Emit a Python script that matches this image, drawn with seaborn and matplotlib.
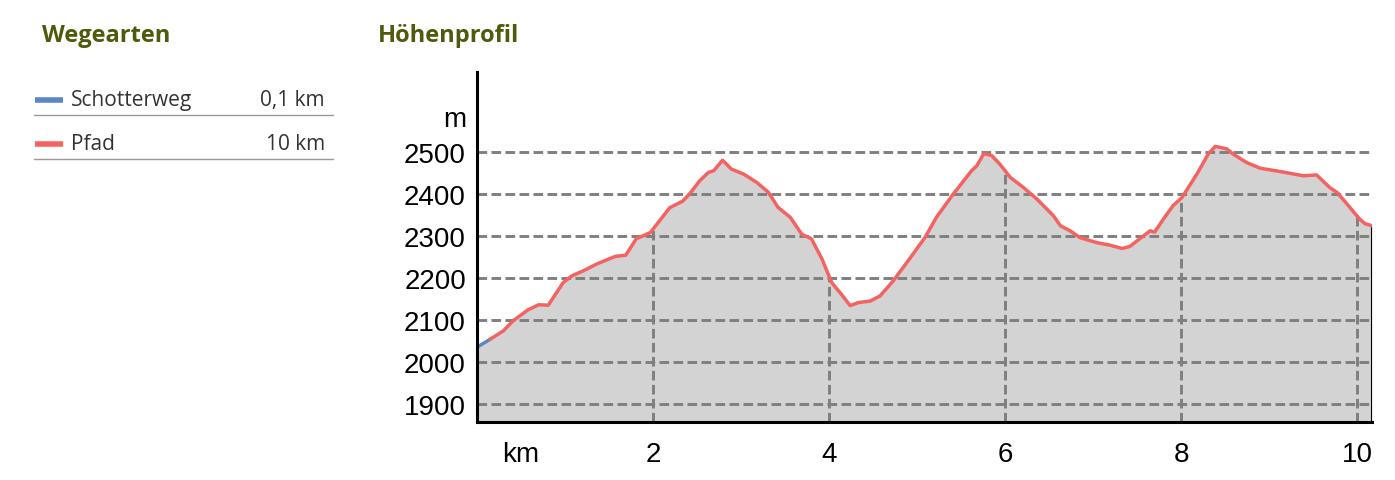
"""
Hoehenprofil - elevation profile with path types legend
"""

import numpy as np
import pandas as pd
import matplotlib.pyplot as plt
import seaborn as sns

# Profile (km, m)
km = [0.00, 0.15, 0.30, 0.41, 0.58, 0.70, 0.81, 0.98, 1.08, 1.21, 1.36, 1.57,
      1.69, 1.81, 1.97, 2.19, 2.34, 2.42, 2.53, 2.63, 2.69, 2.79, 2.89, 3.03,
      3.18, 3.31, 3.42, 3.56, 3.69, 3.80, 3.92, 4.03, 4.14, 4.24, 4.33, 4.47,
      4.58, 4.73, 4.90, 5.09, 5.22, 5.41, 5.53, 5.62, 5.68, 5.76, 5.85, 5.94,
      6.06, 6.21, 6.36, 6.55, 6.63, 6.74, 6.85, 7.04, 7.19, 7.33, 7.42, 7.53,
      7.65, 7.70, 7.80, 7.91, 8.01, 8.18, 8.31, 8.39, 8.52, 8.59, 8.74, 8.90,
      9.13, 9.39, 9.54, 9.69, 9.78, 10.03, 10.09, 10.17]
elev = [2036, 2055, 2075, 2099, 2125, 2137, 2136, 2190, 2206, 2218, 2234, 2252,
        2255, 2294, 2309, 2368, 2384, 2402, 2432, 2452, 2456, 2481, 2460, 2448,
        2428, 2405, 2369, 2345, 2305, 2294, 2246, 2190, 2162, 2135, 2142, 2146,
        2158, 2194, 2242, 2297, 2345, 2400, 2432, 2456, 2468, 2497, 2492, 2472,
        2440, 2416, 2389, 2349, 2325, 2313, 2297, 2285, 2279, 2271, 2276, 2294,
        2313, 2310, 2341, 2373, 2392, 2448, 2496, 2514, 2508, 2496, 2476, 2462,
        2454, 2444, 2446, 2416, 2403, 2341, 2330, 2325]

schotter_end_km = 0.15

way_types = ['Schotterweg', 'Pfad']
way_lengths = ['0,1 km', '10 km']
way_colors = ['#5b87c6', '#f46262']

y_ticks = [1900, 2000, 2100, 2200, 2300, 2400, 2500]
x_ticks = [2, 4, 6, 8, 10]

title_color = '#515a0c'

sns.set_style("white")
plt.rcParams['font.family'] = ['Open Sans', 'DejaVu Sans']

df = pd.DataFrame({'km': km, 'elev': elev})
df['typ'] = np.where(df['km'] <= schotter_end_km, way_types[0], way_types[1])

fig = plt.figure(figsize=(13.95, 4.81), dpi=100)

# titles
fig.text(42 / 1395, 1 - 36 / 481, 'Wegearten', fontsize=17, fontweight='bold',
         color=title_color, va='center', ha='left')
fig.text(378 / 1395, 1 - 36 / 481, 'Höhenprofil', fontsize=17, fontweight='bold',
         color=title_color, va='center', ha='left')

# legend table on the left
for i, (name, length, col) in enumerate(zip(way_types, way_lengths, way_colors)):
    yc = 1 - (101 + i * 44) / 481
    ysep = 1 - (116 + i * 44) / 481
    fig.add_artist(plt.Line2D([35 / 1395, 63 / 1395], [yc, yc], color=col, lw=4,
                              solid_capstyle='butt'))
    fig.text(71 / 1395, yc, name, fontsize=15, color='#333333', va='center', ha='left')
    fig.text(325 / 1395, yc, length, fontsize=15, color='#333333', va='center', ha='right')
    fig.add_artist(plt.Line2D([34 / 1395, 333 / 1395], [ysep, ysep], color='#999999', lw=1))

# profile axes
ax = fig.add_axes([477 / 1395, 1 - 423 / 481, (1372 - 477) / 1395, (423 - 73) / 481])
ymin, ymax = 1858, 2691
ax.set_xlim(0, km[-1])
ax.set_ylim(ymin, ymax)

ax.fill_between(df['km'], df['elev'], ymin, color='#d3d3d3', lw=0, zorder=1)

dash = (0, (3.3, 1.5))
for yt in y_ticks:
    ax.axhline(yt, color='#7f7f7f', lw=2.1, ls=dash, zorder=2)
# vertical grid only below the profile
ax.vlines(x_ticks, ymin, np.interp(x_ticks, km, elev), color='#7f7f7f', lw=2.1,
          linestyles=dash, zorder=2)
ax.vlines(km[-1], ymin, elev[-1], color='black', lw=1.5, zorder=3)

sns.lineplot(data=df[df['km'] <= schotter_end_km], x='km', y='elev', color=way_colors[0],
             lw=2.5, ax=ax, zorder=4, sort=False)
sns.lineplot(data=df[df['km'] >= schotter_end_km], x='km', y='elev', color=way_colors[1],
             lw=2.5, ax=ax, zorder=4, sort=False)

ax.set_xlabel('')
ax.set_ylabel('')
ax.set_yticks(y_ticks + [2586])
ax.set_yticklabels([str(v) for v in y_ticks] + ['m'])
ax.set_xticks([0.5] + x_ticks)
ax.set_xticklabels(['km'] + [str(v) for v in x_ticks])
ax.tick_params(axis='y', length=0, pad=8, labelsize=20)
ax.tick_params(axis='x', length=0, pad=14, labelsize=20)
for lab in ax.get_xticklabels() + ax.get_yticklabels():
    lab.set_fontfamily('Liberation Sans')
    lab.set_color('black')

for side in ['top', 'right']:
    ax.spines[side].set_visible(False)
for side in ['left', 'bottom']:
    ax.spines[side].set_color('black')
    ax.spines[side].set_linewidth(2.2)
    ax.spines[side].set_zorder(5)

plt.savefig('out.png', dpi=100)
plt.close()
